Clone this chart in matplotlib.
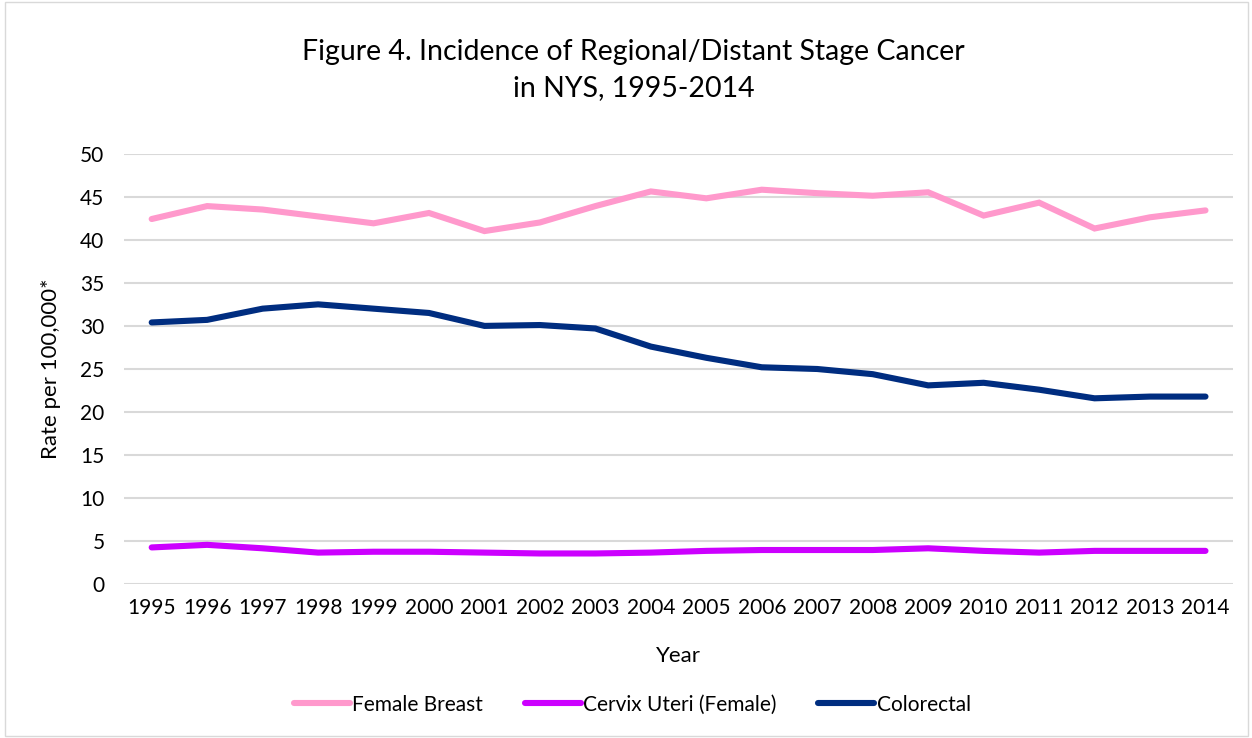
import matplotlib
matplotlib.use("Agg")
import matplotlib.pyplot as plt
from matplotlib.patches import Rectangle

years = list(range(1995, 2015))
female_breast = [42.4, 43.9, 43.5, 42.7, 41.9, 43.1, 41.0, 42.0, 43.9, 45.6,
                 44.8, 45.8, 45.4, 45.1, 45.5, 42.8, 44.3, 41.3, 42.6, 43.4]
cervix_uteri = [4.3, 4.6, 4.2, 3.7, 3.8, 3.8, 3.7, 3.6, 3.6, 3.7,
                3.9, 4.0, 4.0, 4.0, 4.2, 3.9, 3.7, 3.9, 3.9, 3.9]
colorectal = [30.4, 30.7, 32.0, 32.5, 32.0, 31.5, 30.0, 30.1, 29.7, 27.6,
              26.3, 25.2, 25.0, 24.4, 23.1, 23.4, 22.6, 21.6, 21.8, 21.8]
series_names = ["Female Breast", "Cervix Uteri (Female)", "Colorectal"]
colors = ["#FF99CC", "#CC00FF", "#002D80"]
yticks = list(range(0, 51, 5))

plt.rcParams['font.family'] = ['Lato', 'DejaVu Sans']

fig = plt.figure(figsize=(12.52, 7.38), dpi=100)
ax = fig.add_axes([0.099, 0.208, 0.886, 0.584])

for vals, name, c in zip([female_breast, cervix_uteri, colorectal], series_names, colors):
    ax.plot(years, vals, color=c, lw=4.4, label=name, solid_capstyle='round', solid_joinstyle='miter')

ax.set_xlim(1994.5, 2014.5)
ax.set_ylim(0, 50)
ax.set_yticks(yticks)
ax.set_xticks(years)
ax.set_xticklabels([str(y) for y in years])
ax.grid(axis='y', color='#D9D9D9', lw=1.5)
ax.set_axisbelow(True)
for s in ax.spines.values():
    s.set_visible(False)
ax.tick_params(length=0, labelsize=15, colors='#000000', pad=10)
ax.tick_params(axis='y', pad=14)
ax.set_xlabel("Year", fontsize=16, labelpad=20)
ax.set_ylabel("Rate per 100,000*", fontsize=16, labelpad=14)

fig.text(0.506, 0.905, "Figure 4. Incidence of Regional/Distant Stage Cancer\nin NYS, 1995-2014",
         ha='center', va='center', fontsize=20.5, linespacing=1.45)

leg = fig.legend(loc='center', bbox_to_anchor=(0.505, 0.045), ncol=3, frameon=False,
                 fontsize=15, handlelength=2.7, handletextpad=0.1, columnspacing=2.0)

fig.patches.append(Rectangle((0.004, 0.003), 0.993, 0.994, transform=fig.transFigure,
                             fill=False, edgecolor='#D9D9D9', lw=1))

fig.savefig("out.png", dpi=100)
